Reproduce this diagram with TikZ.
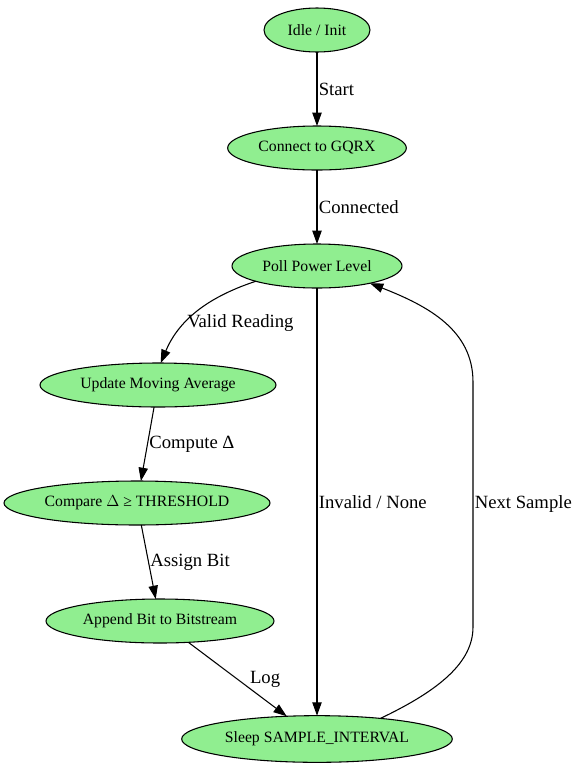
\documentclass[tikz,border=0pt]{standalone}
\usepackage{fontspec}
\setmainfont{Liberation Serif}
\usepackage{tikz}
\usetikzlibrary{shapes.geometric,arrows.meta,positioning}
\definecolor{stategreen}{HTML}{90EE90}

\begin{document}
\begin{tikzpicture}[
    x=0.75pt, y=-0.75pt,
    state/.style={ellipse, draw=black, fill=stategreen, line width=0.8pt, inner sep=0pt, outer sep=0pt, minimum height=33pt, font=\fontsize{11.8}{14}\selectfont},
    arrow/.style={-{Triangle[length=10pt,width=7pt]}, line width=0.8pt, black},
    lbl/.style={font=\fontsize{14}{16}\selectfont, inner sep=1pt}
]
    \useasboundingbox (0,0) rectangle (576,769);

    % States
    \node[state, minimum width=79.5pt] (idle) at (317,30) {Idle / Init};
    \node[state, minimum width=134pt] (connect) at (317,148) {Connect to GQRX};
    \node[state, minimum width=127.5pt] (poll) at (317,266) {Poll Power Level};
    \node[state, minimum width=177pt] (update) at (158,385) {Update Moving Average};
    \node[state, minimum width=199.5pt] (compare) at (137,503) {Compare $\Delta$ ≥ THRESHOLD};
    \node[state, minimum width=171pt] (append) at (160,621) {Append Bit to Bitstream};
    \node[state, minimum width=203pt, minimum height=35pt] (sleep) at (317,739) {Sleep SAMPLE\_INTERVAL};

    % Main flow
    \draw[arrow] (idle) -- node[lbl, right] {Start} (connect);
    \draw[arrow] (connect) -- node[lbl, right] {Connected} (poll);
    \draw[arrow] (poll.194) .. controls (205,298) and (178,322) .. node[lbl, right, pos=0.62] {Valid Reading} (update.83);
    \draw[arrow] (update) -- node[lbl, right] {Compute Δ} (compare);
    \draw[arrow] (compare) -- node[lbl, right] {Assign Bit} (append);
    \draw[arrow] (append) -- node[lbl, right=8pt] {Log} (sleep);

    % Loop back
    \draw[arrow] (poll) -- node[lbl, right] {Invalid / None} (sleep);
    \draw[arrow] (sleep.18) .. controls (440,690) and (473,662) .. (473,627)
        -- node[lbl, right] {Next Sample} (473,382)
        .. controls (473,330) and (428,306) .. (poll.-18);
\end{tikzpicture}
\end{document}
